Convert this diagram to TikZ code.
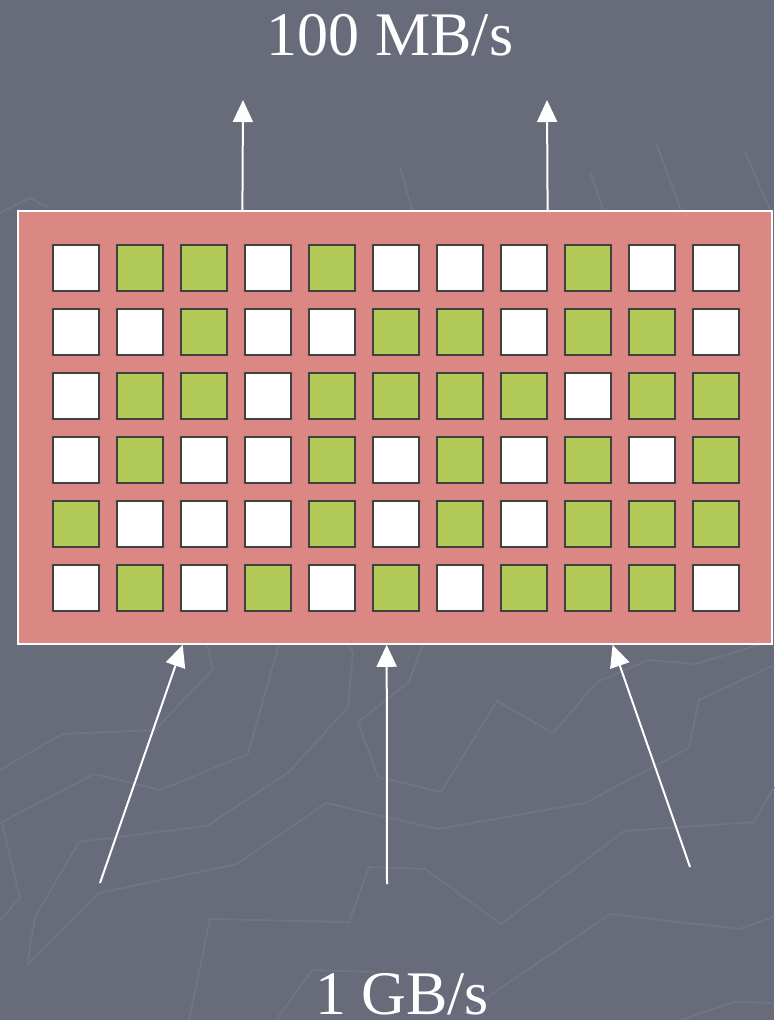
\documentclass[tikz,border=0pt]{standalone}
\usepackage{fontspec}
\setmainfont{Liberation Serif}
\usetikzlibrary{arrows.meta,calc}
\definecolor{slate}{HTML}{686B7A}
\definecolor{crackline}{HTML}{717484}
\definecolor{salmon}{HTML}{DB8783}
\definecolor{leaf}{HTML}{B1C956}
\definecolor{rim}{HTML}{404040}

\begin{document}
\begin{tikzpicture}[x=1pt,y=-1pt,
	crack/.style={crackline, line width=1.8pt, line join=round},
	cell/.style={draw=rim, line width=1.6pt, minimum size=46.4pt, inner sep=0pt},
	cell0/.style={fill=white},
	cell1/.style={fill=leaf},
	flow/.style={white, line width=2pt, -{Triangle[length=22pt,width=20pt]}},
	rate/.style={white, anchor=base, inner sep=0pt, font=\fontsize{62}{70}\selectfont}]
			\fill[slate] (0,0) rectangle (774,1020);
			\useasboundingbox (0,0) rectangle (774,1020);
			% faint background lines
			\draw[crack] (0,770) -- (62,734) -- (155,730) -- (213,669) -- (206,640);
			\draw[crack] (0,823) -- (94,774) -- (160,790) -- (248,754) -- (280,640);
			\draw[crack] (2,823) -- (20,898) -- (0,920);
			\draw[crack] (27,965) -- (35,917) -- (79,842) -- (207,826) -- (289,772) -- (348,707) -- (353,652) -- (345,640);
			\draw[crack] (27,965) -- (99,893) -- (237,864) -- (326,803) -- (438,829) -- (585,803) -- (689,748) -- (699,700) -- (774,665);
			\draw[crack] (424,640) -- (409,682) -- (358,722) -- (378,777) -- (441,792) -- (497,701) -- (553,733) -- (597,682) -- (648,660) -- (696,664) -- (774,640);
			\draw[crack] (189,1020) -- (210,919) -- (349,922) -- (369,867) -- (425,869) -- (501,924) -- (624,831) -- (754,822) -- (774,787);
			\draw[crack] (276,1020) -- (312,970) -- (375,972);
			\draw[crack] (464,1013) -- (610,914) -- (739,929) -- (774,917);
			\draw[crack] (681,1020) -- (734,1002) -- (774,1003);
			\draw[crack] (0,213) -- (30,198) -- (47,207);
			\draw[crack] (400,167) -- (412,210);
			\draw[crack] (590,172) -- (603,210);
			\draw[crack] (656,143) -- (681,210);
			\draw[crack] (745,152) -- (770,210);
			% the buffer
			\node[draw=white, line width=1.5pt, fill=salmon, minimum width=754pt, minimum height=433pt, inner sep=0pt] (box) at (395,427.5) {};
			\foreach \row [count=\r] in {{0,1,1,0,1,0,0,0,1,0,0},{0,0,1,0,0,1,1,0,1,1,0},{0,1,1,0,1,1,1,1,0,1,1},{0,1,0,0,1,0,1,0,1,0,1},{1,0,0,0,1,0,1,0,1,1,1},{0,1,0,1,0,1,0,1,1,1,0}}
				\foreach \v [count=\c] in \row
					\node[cell, cell\v] (c-\r-\c) at ({12+64*\c},{204+64*\r}) {};
			% labels
			\node[rate] (out) at (390,55) {100 MB/s};
			\node[rate] (in) at (402,1014) {1 GB/s};
			% arrows
			\coordinate (o1) at (243,100);
			\coordinate (o2) at (547,100);
			\coordinate (i1) at (100,883);
			\coordinate (i2) at (387,884);
			\coordinate (i3) at (690,867);
			\draw[flow] ($(box.north west)!0.298!(box.north east)$) -- (o1);
			\draw[flow] ($(box.north west)!0.702!(box.north east)$) -- (o2);
			\draw[flow] (i1) -- ($(box.south west)!0.219!(box.south east)$);
			\draw[flow] (i2) -- ($(box.south west)!0.489!(box.south east)$);
			\draw[flow] (i3) -- ($(box.south west)!0.788!(box.south east)$);
\end{tikzpicture}
\end{document}
